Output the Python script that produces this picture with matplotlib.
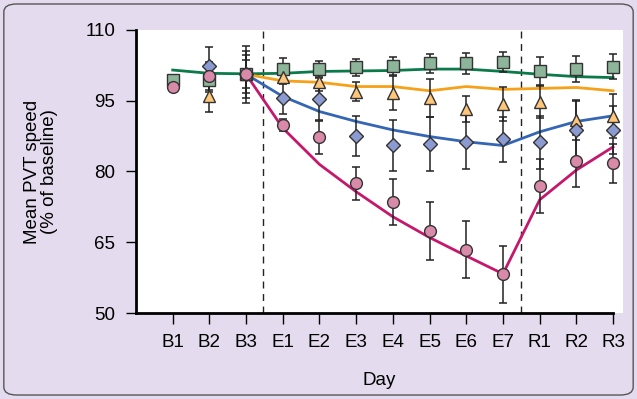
import numpy as np
import matplotlib
matplotlib.use("Agg")
import matplotlib.pyplot as plt
from matplotlib.patches import FancyBboxPatch

plt.rcParams['font.family'] = ['Liberation Sans', 'DejaVu Sans']

dias = ["B1", "B2", "B3", "E1", "E2", "E3", "E4", "E5", "E6", "E7", "R1", "R2", "R3"]

# Marcadores (medias) y errores
verde_y = [99.4, 99.4, 100.6, 101.7, 101.7, 102.1, 102.4, 102.9, 102.9, 103.2, 101.2, 101.7, 102.2]
verde_e = [0.5, 2.5, 3.0, 2.4, 1.7, 1.8, 1.9, 2.1, 2.2, 2.2, 3.0, 2.7, 2.6]
naranja_y = [None, 96.0, 100.6, 100.0, 99.0, 96.9, 96.7, 95.5, 93.2, 94.2, 94.8, 90.9, 91.8]
naranja_e = [None, 3.3, 4.0, 1.5, 2.0, 2.0, 3.6, 4.0, 2.8, 3.6, 3.5, 4.2, 4.7]
azul_y = [None, 102.4, 100.6, 95.5, 95.4, 87.5, 85.6, 85.8, 86.3, 86.8, 86.2, 88.8, 88.8]
azul_e = [None, 4.0, 6.0, 3.3, 4.4, 4.2, 5.4, 5.7, 5.8, 4.7, 5.6, 6.2, 5.0]
rosa_y = [97.8, 100.2, 100.6, 89.9, 87.2, 77.5, 73.5, 67.4, 63.4, 58.2, 76.9, 82.3, 81.7]
rosa_e = [0.3, 3.0, 5.0, 1.3, 3.4, 3.5, 4.9, 6.2, 6.0, 6.0, 5.8, 5.5, 4.1]

# Curvas ajustadas
verde_lin = [101.5, 100.8, 100.7, 100.8, 101.2, 101.3, 101.4, 101.7, 101.7, 101.2, 100.6, 100.1, 99.9]
naranja_lin = [None, None, 100.6, 99.2, 98.9, 98.0, 98.0, 97.1, 98.0, 97.4, 97.6, 97.8, 97.1]
azul_lin = [None, None, 100.6, 95.9, 92.7, 90.6, 88.8, 87.4, 86.3, 85.5, 88.4, 90.6, 91.8]
rosa_lin = [None, None, 100.6, 89.2, 81.5, 75.7, 70.4, 66.0, 62.1, 58.3, 74.0, 80.3, 85.2]

fondo = "#e4dcee"
fig = plt.figure(figsize=(6.37, 3.99), dpi=100, facecolor=fondo)
caja = FancyBboxPatch((0.006, 0.01), 0.988, 0.98, boxstyle="round,pad=0,rounding_size=0.02",
                      transform=fig.transFigure, facecolor="none", edgecolor="#555555", lw=1.0)
fig.patches.append(caja)

ax = fig.add_axes([0.2135, 0.2155, 0.978 - 0.2135, 0.925 - 0.2155])
ax.set_facecolor("white")

x = np.arange(len(dias))


def limpiar(vals):
    return np.array([np.nan if v is None else v for v in vals], dtype=float)


series = [
    (verde_y, verde_e, verde_lin, "#0b7a4b", "#8db59a", "s", 8),
    (naranja_y, naranja_e, naranja_lin, "#f6a11a", "#fdc67a", "^", 9),
    (azul_y, azul_e, azul_lin, "#3566b5", "#8b9bd2", "D", 7),
    (rosa_y, rosa_e, rosa_lin, "#c5176c", "#d98aa9", "o", 8.5),
]

for yv, ev, lv, lc, fc, mk, ms in series:
    ax.plot(x, limpiar(lv), color=lc, lw=2, zorder=2)
for yv, ev, lv, lc, fc, mk, ms in series:
    ax.errorbar(x, limpiar(yv), yerr=limpiar(ev), fmt="none", ecolor="#222222",
                elinewidth=1.1, capsize=3, capthick=1.1, zorder=3)
for yv, ev, lv, lc, fc, mk, ms in series:
    ax.plot(x, limpiar(yv), ls="none", marker=mk, ms=ms, mfc=fc, mec="#333333",
            mew=1.0, zorder=4)

ax.axvline(2.45, color="#222222", lw=1.0, ls=(0, (5, 4)), zorder=1)
ax.axvline(9.5, color="#222222", lw=1.0, ls=(0, (5, 4)), zorder=1)

ax.set_xlim(-1, 12.27)
ax.set_ylim(50, 110)
ax.set_xticks(x)
ax.set_xticklabels(dias)
ax.set_yticks([50, 65, 80, 95, 110])
ax.tick_params(axis="y", labelsize=13.5, length=7, width=1, direction="out", pad=8)
ax.tick_params(axis="x", labelsize=13.5, length=8, width=1, direction="out", pad=7)

ax.spines["top"].set_visible(False)
ax.spines["right"].set_visible(False)
ax.spines["left"].set_linewidth(2)
ax.spines["bottom"].set_linewidth(2)
ax.spines["bottom"].set_bounds(-1, 12)

ax.set_xlabel("Day", fontsize=13.5, labelpad=15)
ax.set_ylabel("Mean PVT speed\n(% of baseline)", fontsize=13.5, labelpad=20, linespacing=1.0)

plt.savefig("out.png", dpi=100, facecolor=fondo)
